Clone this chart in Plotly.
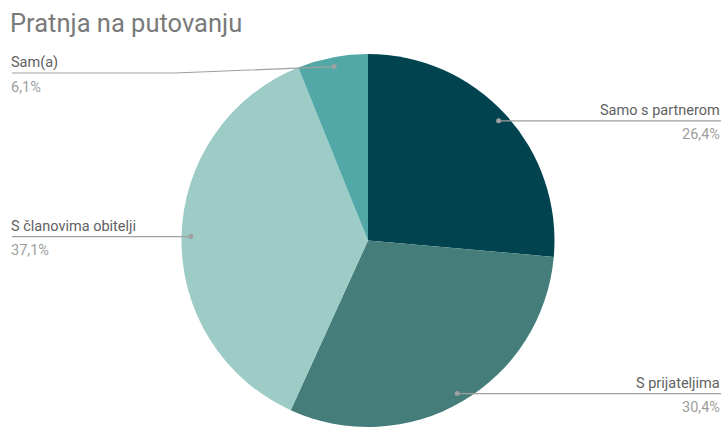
import math
import plotly.graph_objects as go

# ---- data ----
categories = ["Samo s partnerom", "S prijateljima", "S članovima obitelji", "Sam(a)"]
values = [26.4, 30.4, 37.1, 6.1]
colors = ["#014450", "#457d7a", "#9dcbc6", "#52a7a7"]
title_text = "Pratnja na putovanju"

# ---- layout constants ----
W, H = 726, 427
dom_x = [181 / W, 555 / W]
dom_y = [0.0, (H - 54) / H]
cx = (dom_x[0] + dom_x[1]) / 2 * W
cy = H - (dom_y[0] + dom_y[1]) / 2 * H
R = min((dom_x[1] - dom_x[0]) * W, (dom_y[1] - dom_y[0]) * H) / 2
DOT_R = 0.95 * R
MIN_LINE_Y = 73          # keep labels below the title
LEFT_X, RIGHT_X = 12, 721
LEFT_TX, RIGHT_TX = 9, 722
LEFT_BEND, RIGHT_BEND = 175, 550
LINE_COLOR = "#a0a0a0"
FONT = "Roboto, Arial, sans-serif"
LABEL_SIZE = 14.5


def px(x):
    return x / W


def py(y):
    return 1 - y / H


fig = go.Figure(
    go.Pie(
        labels=categories,
        values=values,
        sort=False,
        direction="clockwise",
        rotation=0,
        marker=dict(colors=colors, line=dict(width=0)),
        textinfo="none",
        hoverinfo="label+percent",
        domain=dict(x=dom_x, y=dom_y),
        showlegend=False,
    )
)

shapes = []
annotations = []
total = sum(values)
cum = 0.0
for name, v in zip(categories, values):
    mid = (cum + v / 2) / total * 2 * math.pi
    cum += v
    dx_, dy_ = cx + DOT_R * math.sin(mid), cy - DOT_R * math.cos(mid)
    right = math.sin(mid) >= 0
    line_y = max(dy_, MIN_LINE_Y)
    end_x = RIGHT_X if right else LEFT_X
    bend_x = RIGHT_BEND if right else LEFT_BEND
    if abs(line_y - dy_) < 0.5:
        path = f"M {px(dx_)},{py(dy_)} L {px(end_x)},{py(line_y)}"
    else:
        path = (f"M {px(dx_)},{py(dy_)} L {px(bend_x)},{py(line_y)} "
                f"L {px(end_x)},{py(line_y)}")
    shapes.append(dict(type="path", xref="paper", yref="paper", path=path,
                       line=dict(color=LINE_COLOR, width=1.2)))
    shapes.append(dict(type="circle", xref="paper", yref="paper",
                       x0=px(dx_ - 2.5), x1=px(dx_ + 2.5),
                       y0=py(dy_ + 2.5), y1=py(dy_ - 2.5),
                       fillcolor=LINE_COLOR, line=dict(width=0)))
    anchor = "right" if right else "left"
    tx = RIGHT_TX if right else LEFT_TX
    annotations.append(dict(x=px(tx), y=py(line_y - 10), xref="paper", yref="paper",
                            text=name, showarrow=False, xanchor=anchor, yanchor="middle",
                            font=dict(family=FONT, size=LABEL_SIZE, color="#616161")))
    pct = f"{v / total * 100:.1f}".replace(".", ",") + "%"
    annotations.append(dict(x=px(tx), y=py(line_y + 14), xref="paper", yref="paper",
                            text=pct, showarrow=False, xanchor=anchor, yanchor="middle",
                            font=dict(family=FONT, size=LABEL_SIZE, color="#9e9e9e")))

annotations.append(dict(x=px(8), y=py(23), xref="paper", yref="paper",
                        text=title_text, showarrow=False, xanchor="left", yanchor="middle",
                        font=dict(family=FONT, size=25.5, color="#7a7a7a")))

fig.update_layout(
    width=W, height=H,
    margin=dict(l=0, r=0, t=0, b=0),
    paper_bgcolor="white",
    plot_bgcolor="white",
    shapes=shapes,
    annotations=annotations,
)

post = ("document.body.style.margin='0';document.body.style.padding='0';"
        "document.body.style.overflow='hidden';")
fig.write_html("out.html", post_script=post, config={"displayModeBar": False})
